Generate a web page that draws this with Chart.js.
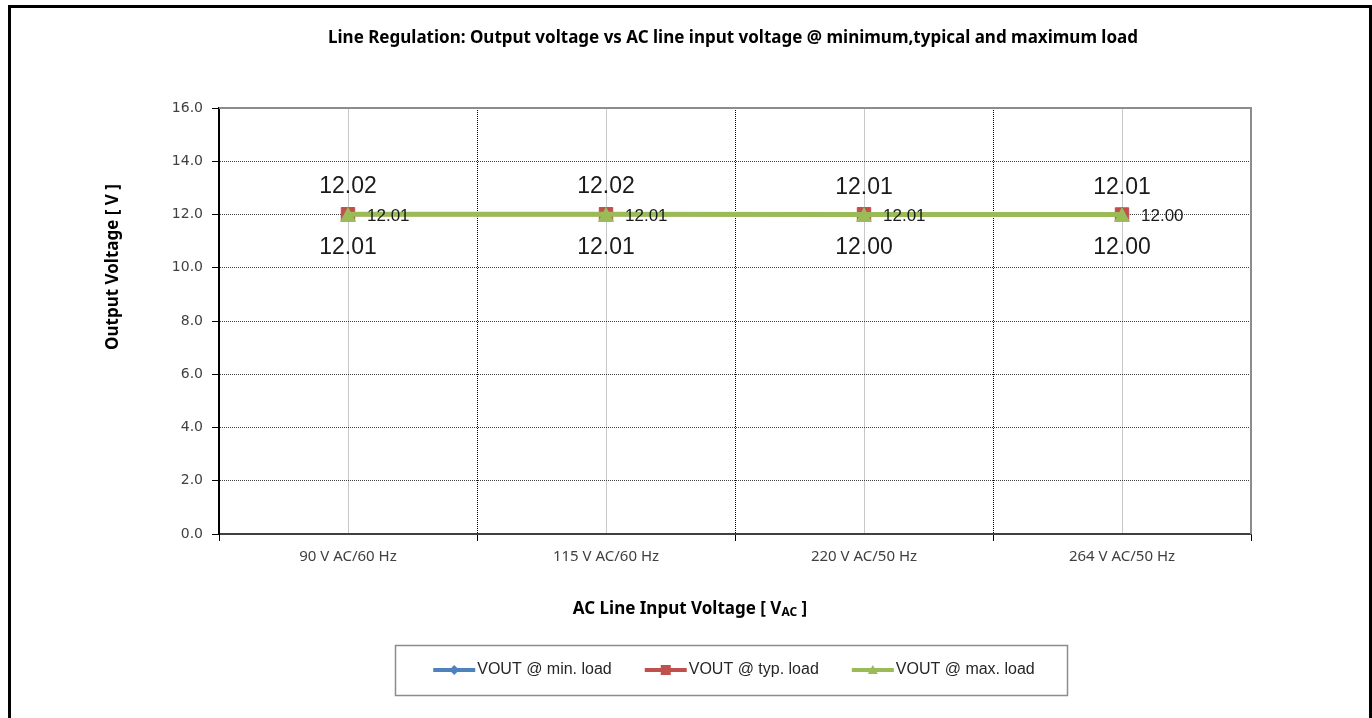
<!DOCTYPE html>
<html>
<head>
<meta charset="utf-8">
<script src="https://cdn.jsdelivr.net/npm/chart.js@4.4.1/dist/chart.umd.min.js"></script>
<style>
  html, body { margin: 0; padding: 0; background: #fff; overflow: hidden; }
  #wrap { position: relative; width: 1372px; height: 718px; }
  #frame { position: absolute; left: 8px; top: 5px; width: 1358px; height: 740px; border: 3px solid #000; pointer-events: none; }
  canvas { display: block; }
</style>
</head>
<body>
<div id="wrap">
  <canvas id="chart" width="1372" height="718"></canvas>
  <div id="frame"></div>
</div>
<script>
// values
const categories = ['90 V AC/60 Hz', '115 V AC/60 Hz', '220 V AC/50 Hz', '264 V AC/50 Hz'];
const seriesNames = ['VOUT @ min. load', 'VOUT @ typ. load', 'VOUT @ max. load'];
const voutMin = [12.02, 12.02, 12.01, 12.01];
const voutTyp = [12.01, 12.01, 12.01, 12.00];
const voutMax = [12.01, 12.01, 12.00, 12.00];
const yTicks = [0, 2, 4, 6, 8, 10, 12, 14, 16];

const chartTitle = 'Line Regulation: Output voltage vs AC line input voltage @ minimum,typical and maximum load';
const yTitle = 'Output Voltage [ V ]';

const BLUE = '#4F81BD';
const RED = '#C0504D';
const GREEN = '#9BBB59';

// Excel style triangle marker that fills its box (centred on the point)
function triangleImage(w, h, color) {
  const c = document.createElement('canvas');
  c.width = w;
  c.height = h;
  const g = c.getContext('2d');
  g.fillStyle = color;
  g.beginPath();
  g.moveTo(w / 2, 0);
  g.lineTo(w, h);
  g.lineTo(0, h);
  g.closePath();
  g.fill();
  return c;
}
const greenTriangle = triangleImage(16, 15, GREEN);

// draws a small marker shape, used for the legend
function marker(ctx, style, x, y, r, color) {
  ctx.save();
  ctx.fillStyle = color;
  ctx.beginPath();
  if (style === 'rectRot') {
    ctx.moveTo(x, y - r); ctx.lineTo(x + r, y); ctx.lineTo(x, y + r); ctx.lineTo(x - r, y);
  } else if (style === 'rect') {
    ctx.rect(x - r, y - r, 2 * r, 2 * r);
  } else {
    ctx.moveTo(x, y - r); ctx.lineTo(x + r, y + r * 0.8); ctx.lineTo(x - r, y + r * 0.8);
  }
  ctx.closePath();
  ctx.fill();
  ctx.restore();
}

const decor = {
  id: 'decor',
  beforeDraw(chart) {
    const ctx = chart.ctx;
    ctx.save();
    ctx.fillStyle = '#fff';
    ctx.fillRect(0, 0, chart.width, chart.height);
    ctx.restore();
  },
  beforeDatasetsDraw(chart) {
    // gray solid frame on top and right of plot area
    const { ctx, chartArea: a } = chart;
    ctx.save();
    ctx.strokeStyle = '#8C8C8C';
    ctx.lineWidth = 2;
    ctx.beginPath();
    ctx.moveTo(a.left, a.top);
    ctx.lineTo(a.right, a.top);
    ctx.lineTo(a.right, a.bottom);
    ctx.stroke();
    ctx.restore();
  },
  afterDatasetsDraw(chart) {
    // value labels next to each point
    const ctx = chart.ctx;
    ctx.save();
    ctx.fillStyle = '#1a1a1a';
    chart.data.datasets.forEach((ds, i) => {
      const meta = chart.getDatasetMeta(i);
      meta.data.forEach((pt, j) => {
        const txt = ds.data[j].toFixed(2);
        if (ds.labelPos === 'right') {
          ctx.font = '17px "Liberation Sans"';
          ctx.textAlign = 'left';
          ctx.textBaseline = 'middle';
          ctx.fillText(txt, pt.x + 19, pt.y + 2);
        } else {
          ctx.font = '23px "Liberation Sans"';
          ctx.textAlign = 'center';
          ctx.textBaseline = 'middle';
          ctx.fillText(txt, pt.x, ds.labelPos === 'top' ? pt.y - 27 : pt.y + 33);
        }
      });
    });
    ctx.restore();
  },
  afterDraw(chart) {
    const ctx = chart.ctx;
    ctx.save();
    ctx.fillStyle = '#000';

    // chart title
    ctx.font = 'bold 17px "Noto Sans"';
    ctx.textAlign = 'center';
    ctx.textBaseline = 'middle';
    ctx.fillText(chartTitle, 733, 38);

    // y axis title
    ctx.save();
    ctx.translate(113, 267);
    ctx.rotate(-Math.PI / 2);
    ctx.font = 'bold 17px "Noto Sans"';
    ctx.fillText(yTitle, 0, 0);
    ctx.restore();

    // x axis title with subscript
    const parts = [['AC Line Input Voltage [ V', 'bold 17px "Noto Sans"', 0], ['AC', 'bold 12px "Noto Sans"', 4], [' ]', 'bold 17px "Noto Sans"', 0]];
    let total = 0;
    parts.forEach(p => { ctx.font = p[1]; total += ctx.measureText(p[0]).width; });
    let x = 690 - total / 2;
    ctx.textAlign = 'left';
    parts.forEach(p => {
      ctx.font = p[1];
      ctx.fillText(p[0], x, 609 + p[2]);
      x += ctx.measureText(p[0]).width;
    });

    // legend
    ctx.strokeStyle = '#8C8C8C';
    ctx.lineWidth = 1.5;
    ctx.strokeRect(395.5, 645.5, 672, 50);
    ctx.font = '16px "Liberation Sans"';
    const lineLen = 42, gap = 33;
    const styles = ['rectRot', 'rect', 'triangle'];
    const widths = chart.data.datasets.map(ds => lineLen + 2 + ctx.measureText(ds.label).width);
    const sum = widths.reduce((a, b) => a + b, 0) + gap * (widths.length - 1);
    let lx = 734 - sum / 2;
    chart.data.datasets.forEach((ds, i) => {
      ctx.strokeStyle = ds.borderColor;
      ctx.lineWidth = 4;
      ctx.beginPath();
      ctx.moveTo(lx, 670);
      ctx.lineTo(lx + lineLen, 670);
      ctx.stroke();
      marker(ctx, styles[i], lx + lineLen / 2, 670, 5, ds.borderColor);
      ctx.fillStyle = '#262626';
      ctx.fillText(ds.label, lx + lineLen + 2, 670);
      lx += widths[i] + gap;
    });
    ctx.restore();
  }
};

new Chart(document.getElementById('chart'), {
  type: 'line',
  data: {
    labels: categories,
    datasets: [
      {
        label: seriesNames[0], data: voutMin, borderColor: BLUE, backgroundColor: BLUE,
        borderWidth: 4, pointStyle: 'rectRot', pointRadius: 7, pointBorderWidth: 1,
        order: 3, labelPos: 'top'
      },
      {
        label: seriesNames[1], data: voutTyp, borderColor: RED, backgroundColor: RED,
        borderWidth: 4, pointStyle: 'rect', pointRadius: 9.5, pointBorderWidth: 1,
        order: 2, labelPos: 'right'
      },
      {
        label: seriesNames[2], data: voutMax, borderColor: GREEN, backgroundColor: GREEN,
        borderWidth: 5, pointStyle: greenTriangle, pointRadius: 8,
        order: 1, labelPos: 'bottom'
      }
    ]
  },
  options: {
    responsive: false,
    animation: false,
    layout: { padding: { top: 108, right: 121, left: 0, bottom: 0 } },
    plugins: {
      legend: { display: false },
      title: { display: false },
      tooltip: { enabled: false }
    },
    scales: {
      x: {
        type: 'category',
        position: 'bottom',
        offset: true,
        grid: { offset: true, color: '#000', lineWidth: 1, tickLength: 7, tickColor: '#000', tickBorderDash: [] },
        border: { display: true, color: '#404040', width: 2, dash: [1, 1] },
        ticks: { color: '#404040', font: { family: 'Noto Sans', size: 15 }, padding: 7, maxRotation: 0, autoSkip: false },
        afterFit(s) { s.height = 184; }
      },
      xc: {
        type: 'category',
        position: 'bottom',
        offset: true,
        grid: { offset: false, color: '#C8C8C8', lineWidth: 1, drawTicks: false },
        border: { display: false },
        ticks: { display: false },
        afterFit(s) { s.height = 0; }
      },
      y: {
        min: 0,
        max: 16,
        afterBuildTicks(s) { s.ticks = yTicks.map(v => ({ value: v })); },
        ticks: {
          callback: v => v.toFixed(1),
          color: '#404040',
          font: { family: 'DejaVu Sans', size: 14 },
          padding: 9
        },
        grid: { color: '#404040', lineWidth: 1, tickLength: 7, tickColor: '#000', tickBorderDash: [] },
        border: { display: true, color: '#000', width: 2, dash: [1, 1] },
        afterFit(s) { s.width = 219; }
      }
    }
  },
  plugins: [decor]
});
</script>
</body>
</html>
